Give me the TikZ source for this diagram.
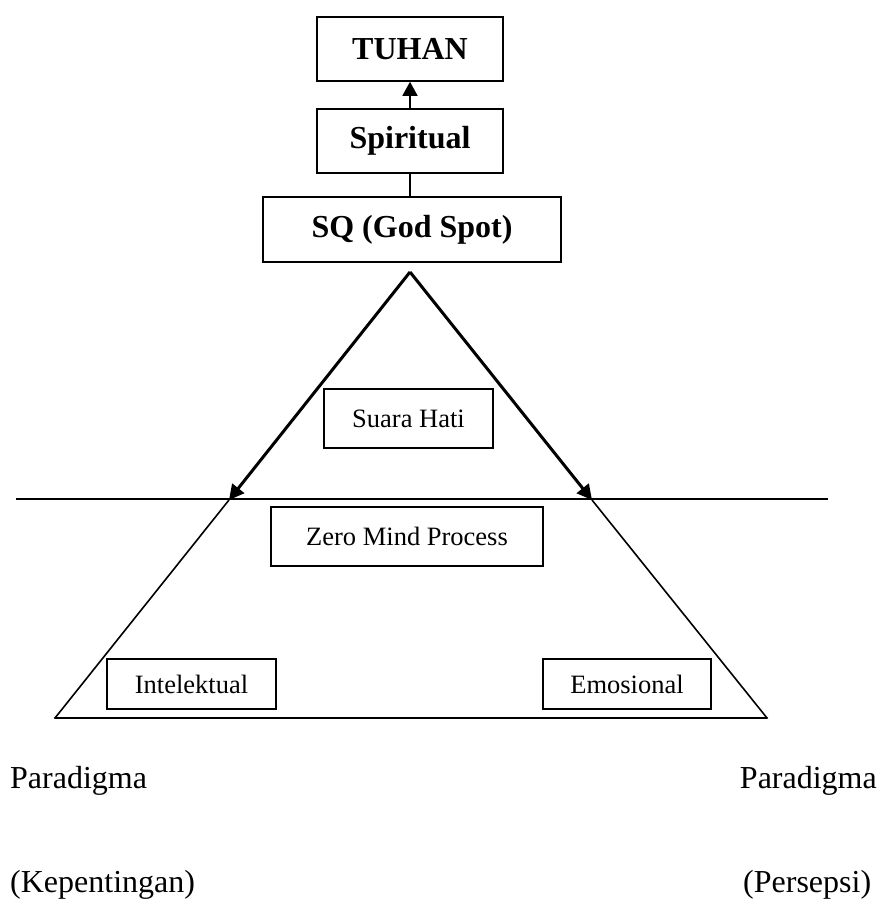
\documentclass[tikz,border=0pt]{standalone}
\usepackage{fontspec}
\setmainfont{Liberation Serif}
\usetikzlibrary{arrows.meta}
\tikzset{
  box/.style={draw, line width=1.6pt, rectangle, inner sep=0pt, align=center},
  bigbox/.style={box, font=\fontsize{32}{36}\selectfont\bfseries},
  smallbox/.style={box, font=\fontsize{26.5}{30}\selectfont},
  plaintext/.style={inner sep=0pt, font=\fontsize{32}{36}\selectfont},
  thickside/.style={line width=3pt, -{Triangle[length=15pt,width=15pt]}},
  thinside/.style={line width=1.6pt},
  baseline/.style={line width=2.6pt},
  hline/.style={line width=2pt},
  link/.style={line width=1.6pt}
}
\begin{document}
\begin{tikzpicture}[x=1pt,y=-1pt]
\useasboundingbox (0,0) rectangle (879,901);
% boxes
\node[bigbox, minimum width=186pt, minimum height=64pt] (tuhan) at (410,49) {TUHAN};
\node[bigbox, minimum width=186pt, minimum height=64pt] (spir) at (410,141) {Spiritual};
\node[bigbox, minimum width=298pt, minimum height=65pt] (sq) at (412,229.5) {SQ (God Spot)};
\node[smallbox, minimum width=169pt, minimum height=59pt] (hati) at (408.5,418.5) {Suara Hati};
\node[smallbox, minimum width=272pt, minimum height=59pt] (zero) at (407,536.5) {Zero Mind Process};
\node[smallbox, minimum width=169pt, minimum height=50pt] (intel) at (191.5,684) {Intelektual};
\node[smallbox, minimum width=168pt, minimum height=50pt] (emo) at (627,684) {Emosional};
% connectors between boxes
\draw[link, -{Triangle[length=14pt,width=15pt]}] (spir.north) -- (tuhan.south);
\draw[link] (spir.south) -- (spir.south |- sq.north);
% triangle points
\coordinate (apex) at (410,272);
\coordinate (L) at (229,500);
\coordinate (R) at (592,500);
\coordinate (BL) at (55,718);
\coordinate (BR) at (767,718);
\coordinate (HL) at (16,499);
\coordinate (HR) at (828,499);
% triangle
\draw[hline] (HL) -- (HR);
\draw[thickside] (apex) -- (L);
\draw[thickside] (apex) -- (R);
\draw[thinside] (L) -- (BL);
\draw[thinside] (R) -- (BR);
\draw[baseline, line cap=round] (BL) -- (BR);
% bottom labels
\node[plaintext, anchor=base west] (p1) at (10,788) {Paradigma};
\node[plaintext, anchor=base east] (p2) at (877,788) {Paradigma};
\node[plaintext, anchor=base west] (k1) at (10,892) {(Kepentingan)};
\node[plaintext, anchor=base west] (k2) at (743,892) {(Persepsi)};
\end{tikzpicture}
\end{document}
